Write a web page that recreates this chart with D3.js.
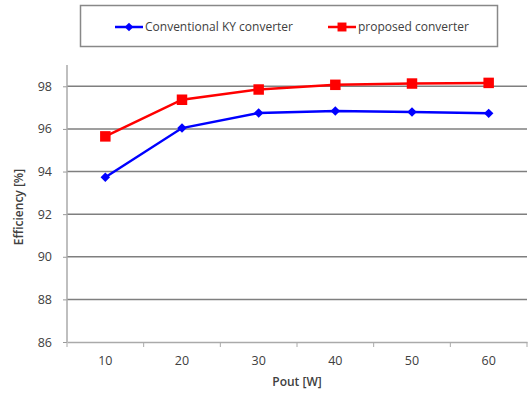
<!DOCTYPE html>
<html><head><meta charset="utf-8">
<script src="https://cdn.jsdelivr.net/npm/d3@7"></script>
<style>body{margin:0;background:#fff}svg{display:block}text{font-family:"Open Sans","Liberation Sans",sans-serif;fill:#404040}</style>
</head><body>
<svg id="c" width="529" height="393"></svg>
<script>
const categories = [10, 20, 30, 40, 50, 60];
const conventional = [93.73, 96.04, 96.75, 96.84, 96.79, 96.73];
const proposed = [95.65, 97.37, 97.85, 98.07, 98.13, 98.16];
const yTicks = [86, 88, 90, 92, 94, 96, 98];
const seriesNames = ["Conventional KY converter", "proposed converter"];

const svg = d3.select("#c");
const L = 67, R = 527, T = 65, B = 342;
const x = d3.scaleBand().domain(categories).range([L, R]);
const y = d3.scaleLinear().domain([86, 99]).range([B, T]);

// gridlines
svg.append("g").selectAll("line").data(yTicks.slice(1)).join("line")
  .attr("x1", L).attr("x2", R).attr("y1", d => y(d)).attr("y2", d => y(d))
  .attr("stroke", "#7f7f7f").attr("stroke-width", 1.5);

// y axis
const ya = svg.append("g").attr("transform", `translate(${L},0)`)
  .call(d3.axisLeft(y).tickValues(yTicks).tickSize(4).tickPadding(11).tickSizeOuter(0));
ya.select(".domain").remove();
ya.selectAll(".tick line").attr("stroke", "#999");
ya.selectAll("text").style("font-size", "12.5px").attr("fill", "#404040");
svg.append("line").attr("x1", L).attr("x2", L).attr("y1", T).attr("y2", B)
  .attr("stroke", "#aaa").attr("stroke-width", 1.5);

// x axis
const xa = svg.append("g").attr("transform", `translate(0,${B})`)
  .call(d3.axisBottom(x).tickSize(0).tickPadding(14));
xa.select(".domain").attr("stroke", "#aaa").attr("stroke-width", 1.5);
xa.selectAll("text").style("font-size", "12.5px").attr("fill", "#404040");
svg.append("g").selectAll("line").data(categories).join("line")
  .attr("x1", d => x(d)).attr("x2", d => x(d)).attr("y1", B).attr("y2", B + 5)
  .attr("stroke", "#aaa");
svg.append("line").attr("x1", R).attr("x2", R).attr("y1", B).attr("y2", B + 5).attr("stroke", "#aaa");

const cx = d => x(d) + x.bandwidth() / 2;
const line = d3.line().x((d, i) => cx(categories[i])).y(d => y(d));

function drawSeries(vals, color, rot, size) {
  svg.append("path").datum(vals).attr("d", line).attr("fill", "none")
    .attr("stroke", color).attr("stroke-width", 2.5);
  svg.append("g").selectAll("path").data(vals).join("path")
    .attr("transform", (d, i) => `translate(${cx(categories[i])},${y(d)}) rotate(${rot})`)
    .attr("d", d3.symbol().type(d3.symbolSquare).size(size)).attr("fill", color);
}
drawSeries(conventional, "#0000ff", 45, 45);
drawSeries(proposed, "#ff0000", 0, 110);

// axis titles
svg.append("text").attr("x", 297).attr("y", 386).attr("text-anchor", "middle")
  .style("font-size", "12px").style("font-weight", "600").text("Pout [W]");
svg.append("text").attr("transform", "translate(23,207) rotate(-90)").attr("text-anchor", "middle")
  .style("font-size", "12px").style("font-weight", "600").text("Efficiency [%]");

// legend
svg.append("rect").attr("x", 80.5).attr("y", 5.5).attr("width", 417).attr("height", 41)
  .attr("fill", "#fff").attr("stroke", "#888").attr("stroke-width", 1.5);
const leg = [
  {name: seriesNames[0], color: "#0000ff", rot: 45, size: 38, x: 115},
  {name: seriesNames[1], color: "#ff0000", rot: 0, size: 80, x: 328}
];
const lg = svg.append("g").selectAll("g").data(leg).join("g")
  .attr("transform", d => `translate(${d.x},27)`);
lg.append("line").attr("x1", 0).attr("x2", 28).attr("stroke", d => d.color).attr("stroke-width", 2.5);
lg.append("path").attr("transform", d => `translate(14,0) rotate(${d.rot})`)
  .attr("d", d => d3.symbol().type(d3.symbolSquare).size(d.size)()).attr("fill", d => d.color);
lg.append("text").attr("x", 30).attr("y", 4).style("font-size", "12px").text(d => d.name);
</script>
</body></html>
